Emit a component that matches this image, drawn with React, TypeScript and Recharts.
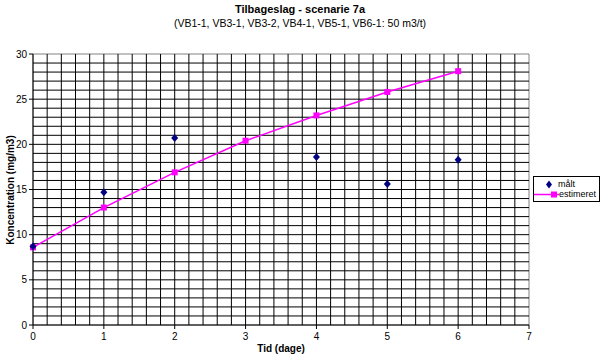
import { ComposedChart, Line, ReferenceArea, ReferenceLine, Scatter, XAxis, YAxis } from "recharts";

const DAYS = [0, 1, 2, 3, 4, 5, 6];
const MAALT = [8.7, 14.7, 20.7, null, 18.6, 15.6, 18.3];
const ESTIMERET = [8.6, 13.0, 16.9, 20.4, 23.2, 25.8, 28.1];
const X_TICKS = [0, 1, 2, 3, 4, 5, 6, 7];
const Y_TICKS = [0, 5, 10, 15, 20, 25, 30];

// grid: every 0.2 day and every 1 mg/m3 (outer edges drawn by the border)
const V_GRID = Array.from({ length: 34 }, (_, i) => +(0.2 * (i + 1)).toFixed(1));
const H_GRID = Array.from({ length: 29 }, (_, i) => i + 1);

const data = DAYS.map((d, i) => ({ day: d, maalt: MAALT[i], est: ESTIMERET[i] }));

const FONT = "'Liberation Sans', Arial, sans-serif";

function SquareDot(props: any) {
  const { cx, cy } = props;
  if (cx == null || cy == null) return null;
  return <rect x={cx - 3} y={cy - 3} width={6} height={6} fill="#ff00ff" />;
}

function Diamond(props: any) {
  const { cx, cy } = props;
  return <path d={`M${cx},${cy - 4}L${cx + 3.5},${cy}L${cx},${cy + 4}L${cx - 3.5},${cy}Z`} fill="#000080" />;
}

export default function App() {
  return (
    <div style={{ position: "absolute", left: 0, top: 0, width: 600, height: 364, background: "#fff", fontFamily: FONT }}>
      <div style={{ position: "absolute", top: 3, left: 0, width: 600, textAlign: "center", fontSize: 11, fontWeight: 700 }}>
        Tilbageslag - scenarie 7a
      </div>
      <div style={{ position: "absolute", top: 17, left: 0, width: 600, textAlign: "center", fontSize: 10.5 }}>
        (VB1-1, VB3-1, VB3-2, VB4-1, VB5-1, VB6-1: 50 m3/t)
      </div>
      <ComposedChart width={600} height={364} data={data} margin={{ top: 54, right: 71, bottom: 19, left: 0 }}>
        {H_GRID.map((v) => (
          <ReferenceLine key={`h${v}`} y={v} stroke="#000" strokeWidth={1} />
        ))}
        {V_GRID.map((v) => (
          <ReferenceLine key={`v${v}`} x={v} stroke="#000" strokeWidth={1} />
        ))}
        <ReferenceArea x1={0} x2={7} y1={0} y2={30} fill="none" stroke="#808080" strokeWidth={1} ifOverflow="visible" />
        <XAxis
          type="number"
          dataKey="day"
          domain={[0, 7]}
          ticks={X_TICKS}
          height={20}
          tickSize={4}
          tickMargin={4}
          stroke="#000"
          tick={{ fill: "#000", fontSize: 10, fontFamily: FONT }}
        />
        <YAxis
          type="number"
          domain={[0, 30]}
          ticks={Y_TICKS}
          width={33}
          tickSize={4}
          tickMargin={2}
          stroke="#000"
          tick={{ fill: "#000", fontSize: 10, fontFamily: FONT }}
        />
        <Line dataKey="est" stroke="#ff00ff" strokeWidth={1.5} dot={<SquareDot />} isAnimationActive={false} />
        <Scatter dataKey="maalt" shape={<Diamond />} isAnimationActive={false} />
      </ComposedChart>
      <div
        style={{
          position: "absolute",
          left: 4,
          top: 190,
          transform: "translate(-50%, -50%) rotate(-90deg)",
          marginLeft: 6,
          fontSize: 10,
          fontWeight: 700,
          whiteSpace: "nowrap",
        }}
      >
        Koncentration (mg/m3)
      </div>
      <div style={{ position: "absolute", top: 343, left: 33, width: 496, textAlign: "center", fontSize: 10, fontWeight: 700 }}>
        Tid (dage)
      </div>
      <div
        style={{
          position: "absolute",
          left: 533,
          top: 176,
          width: 65,
          height: 24,
          border: "1px solid #000",
          fontSize: 9,
          background: "#fff",
        }}
      >
        <svg width={26} height={24} style={{ position: "absolute", left: 0, top: 0 }}>
          <path d="M15,3.5L18,7.5L15,11.5L12,7.5Z" fill="#000080" />
          <line x1={0} y1={17.5} x2={25} y2={17.5} stroke="#ff00ff" strokeWidth={1.5} />
          <rect x={17} y={14.5} width={6} height={6} fill="#ff00ff" />
        </svg>
        <div style={{ position: "absolute", left: 24, top: 2 }}>målt</div>
        <div style={{ position: "absolute", left: 25, top: 12 }}>estimeret</div>
      </div>
    </div>
  );
}
